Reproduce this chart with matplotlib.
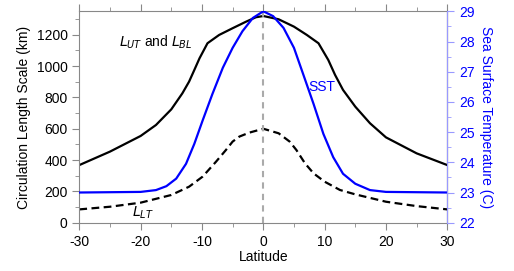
import matplotlib.pyplot as plt
from matplotlib.ticker import MultipleLocator

plt.rcParams['font.family'] = ['Liberation Sans', 'DejaVu Sans']
plt.rcParams['axes.unicode_minus'] = False

# values
lat_ut = [-30, -25, -20, -17.5, -15, -13.2, -12.1, -11.25, -10.4, -9.1, -7.2, -5,
          -2.8, -1.2, 0, 2.5, 5, 7.1, 9, 10.6, 11.7, 13, 15, 17.4, 20, 25, 30]
l_ut = [368, 454, 554, 624, 724, 826, 901, 975, 1050, 1146, 1199, 1242,
        1284, 1312, 1320, 1299, 1252, 1199, 1146, 1039, 944, 848, 741, 635, 545, 443, 368]

lat_lt = [-30, -25, -20, -15, -12.1, -9.9, -7.7, -6.1, -5, -3.9, -2.3, 0,
          2.5, 4.3, 5.4, 6.8, 8.2, 10, 12.5, 15, 20, 25, 30]
l_lt = [85, 102, 128, 177, 230, 294, 390, 464, 518, 550, 575, 600,
        571, 518, 464, 379, 315, 262, 209, 181, 134, 106, 85]

lat_sst = [-30, -20, -17.5, -15.8, -14.2, -12.6, -11.25, -9.9, -8.3, -6.6, -5, -3.4,
           -1.7, 0, 1.6, 3.3, 5, 6.5, 8.2, 9.8, 11.4, 13, 15, 17.4, 20, 30]
sst = [23.0, 23.02, 23.08, 23.21, 23.46, 23.95, 24.61, 25.38, 26.26, 27.13, 27.79, 28.34,
       28.78, 29.0, 28.84, 28.45, 27.79, 26.92, 25.93, 24.94, 24.17, 23.62, 23.29, 23.08,
       23.02, 23.0]

gray = '#888888'
lblue = '#9999ff'
blue = '#0000ff'

fig = plt.figure(figsize=(5.14, 2.71), dpi=100)
ax = fig.add_axes([0.1543, 0.1782, 0.7159, 0.7801])
ax.plot(lat_ut, l_ut, 'k-', lw=1.6)
ax.plot(lat_lt, l_lt, 'k--', lw=1.6, dashes=(3.5, 2))
ax.axvline(0, color='#aaaaaa', ls='--', lw=1.5, dashes=(3, 2.5))
ax.set_xlim(-30, 30)
ax.set_ylim(0, 1350)
ax.xaxis.set_major_locator(MultipleLocator(10))
ax.xaxis.set_minor_locator(MultipleLocator(5))
ax.yaxis.set_major_locator(MultipleLocator(200))
ax.yaxis.set_minor_locator(MultipleLocator(100))
ax.tick_params(which='both', direction='out', color=gray, top=True, labelsize=10)
ax.tick_params(which='major', length=5)
ax.tick_params(which='minor', length=3)
for s in ['left', 'bottom', 'top']:
    ax.spines[s].set_color(gray)
ax.set_xlabel('Latitude', fontsize=10, labelpad=1)
ax.set_ylabel('Circulation Length Scale (km)', fontsize=10)

ax.text(-23.5, 1150, r'$L_{UT}$ and $L_{BL}$', fontsize=10, va='center',
        math_fontfamily='dejavusans')
ax.text(-21.4, 62, r'$L_{LT}$', fontsize=10, va='center',
        math_fontfamily='dejavusans')

ax2 = ax.twinx()
ax2.plot(lat_sst, sst, color=blue, lw=1.6)
ax2.set_ylim(22, 29)
ax2.yaxis.set_major_locator(MultipleLocator(1))
ax2.yaxis.set_minor_locator(MultipleLocator(0.5))
ax2.tick_params(which='both', direction='out', color=lblue, labelcolor=blue,
                labelsize=10)
ax2.tick_params(which='major', length=5)
ax2.tick_params(which='minor', length=3)
for s in ['left', 'bottom', 'top']:
    ax2.spines[s].set_visible(False)
ax2.spines['right'].set_color(lblue)
ax2.set_ylabel('Sea Surface Temperature (C)', color=blue, fontsize=10,
               rotation=270, labelpad=13)
ax2.text(7.3, 22 + 867 / 1350 * 7, 'SST', color=blue, fontsize=10, va='center')

fig.savefig('out.png', dpi=100)
